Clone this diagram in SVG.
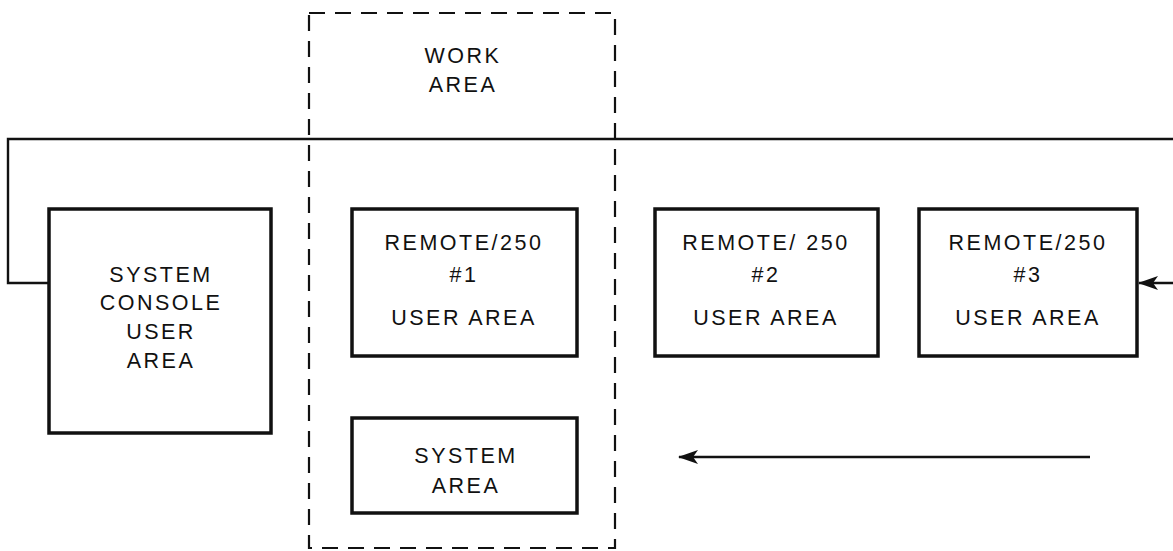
<svg xmlns="http://www.w3.org/2000/svg" width="1173" height="551" viewBox="0 0 1173 551">
<defs>
<style>
.box{fill:#fff;stroke:#111;stroke-width:3.5}
.ln{fill:none;stroke:#111;stroke-width:2.4}
.dash{fill:none;stroke:#111;stroke-width:2.2;stroke-dasharray:16 10}
text{font-family:"Liberation Sans",Arial,sans-serif;font-size:21.5px;fill:#111;text-anchor:middle;letter-spacing:2.5px}
</style>
<marker id="ah" viewBox="0 0 20 14" refX="19" refY="7" markerWidth="20" markerHeight="14" markerUnits="userSpaceOnUse" orient="auto">
<path d="M20,7 L0,0 L5,7 L0,14 Z" fill="#111"/>
</marker>
</defs>
<rect width="1173" height="551" fill="#fff"/>
<g id="work-area">
<rect class="dash" x="309" y="13" width="306" height="535"/>
<text x="463" y="63">WORK</text>
<text x="463" y="92">AREA</text>
</g>
<g id="connectors">
<path class="ln" d="M1173,139 L8,139 L8,283 L49,283"/>
<path class="ln" d="M1173,283 L1139,283" marker-end="url(#ah)"/>
<path class="ln" d="M1090,457 L679,457" marker-end="url(#ah)"/>
</g>
<g id="console">
<rect class="box" x="49" y="209" width="222" height="224"/>
<text x="161" y="282">SYSTEM</text>
<text x="161" y="310">CONSOLE</text>
<text x="161" y="339">USER</text>
<text x="161" y="368">AREA</text>
</g>
<g id="remote1">
<rect class="box" x="352" y="209" width="225" height="147"/>
<text x="464" y="250">REMOTE/250</text>
<text x="464" y="282">#1</text>
<text x="464" y="325">USER AREA</text>
</g>
<g id="remote2">
<rect class="box" x="655" y="209" width="223" height="147"/>
<text x="766" y="250">REMOTE/ 250</text>
<text x="766" y="282">#2</text>
<text x="766" y="325">USER AREA</text>
</g>
<g id="remote3">
<rect class="box" x="919" y="209" width="218" height="147"/>
<text x="1028" y="250">REMOTE/250</text>
<text x="1028" y="282">#3</text>
<text x="1028" y="325">USER AREA</text>
</g>
<g id="system-area">
<rect class="box" x="352" y="418" width="225" height="95"/>
<text x="466" y="463">SYSTEM</text>
<text x="466" y="493">AREA</text>
</g>
</svg>
